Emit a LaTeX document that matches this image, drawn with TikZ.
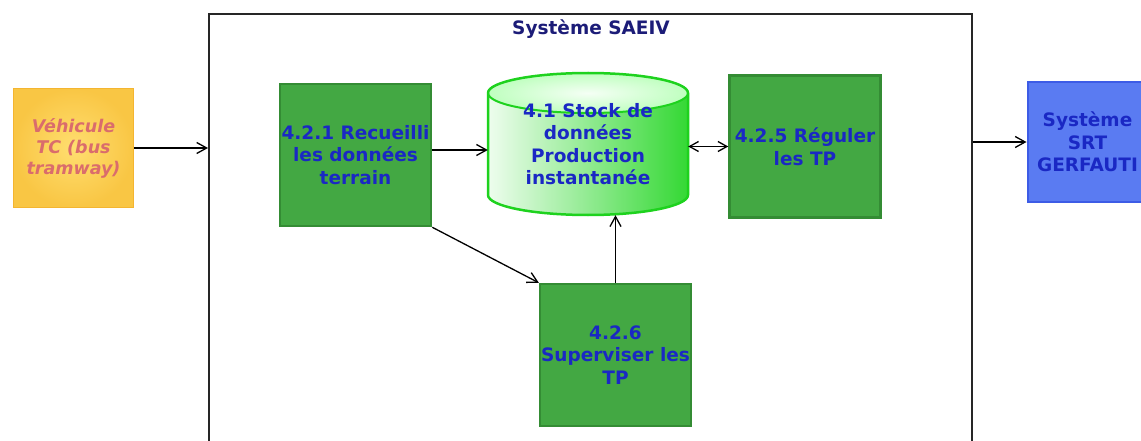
\documentclass[tikz,border=0pt]{standalone}
\usepackage{fontspec}
\setmainfont{DejaVu Sans}
\usetikzlibrary{arrows.meta}
\definecolor{tblue}{HTML}{1A28C4}
\definecolor{tnavy}{HTML}{1C1C78}
\definecolor{gmain}{HTML}{43A843}
\definecolor{gedge}{HTML}{348C34}
\definecolor{cedge}{HTML}{1ED21E}
\definecolor{cright}{HTML}{34D834}
\definecolor{cleft}{HTML}{EEFDEE}
\definecolor{vin}{HTML}{FFDE70}
\definecolor{vout}{HTML}{F9C644}
\definecolor{vedge}{HTML}{F4B530}
\definecolor{vtext}{HTML}{DA6C6C}
\definecolor{bmain}{HTML}{5A7BF2}
\definecolor{bedge}{HTML}{3D5CE6}
\tikzset{
  boxfont/.style={font=\fontsize{18.5}{22.5}\selectfont\bfseries},
  gbox/.style={boxfont, draw=gedge, line width=2.5pt, fill=gmain, text=tblue,
    align=center, inner sep=0pt, minimum width=151pt, minimum height=142pt},
  vbox/.style={font=\fontsize{17.5}{21}\selectfont\bfseries\itshape, draw=vedge, line width=1.5pt,
    inner color=vin, outer color=vout, text=vtext, align=center, inner sep=0pt,
    minimum width=120pt, minimum height=119pt},
  bbox/.style={boxfont, draw=bedge, line width=2pt, fill=bmain, text=tblue,
    align=center, inner sep=0pt, minimum width=120pt, minimum height=119pt},
  frame/.style={draw=black!85, line width=2pt, inner sep=0pt},
  arr/.style={draw=black, line width=1.3pt, -{Straight Barb[length=10pt,width=11pt]}},
  dbl/.style={draw=black, line width=1.3pt, {Straight Barb[length=9pt,width=10pt]}-{Straight Barb[length=9pt,width=10pt]}},
}
\begin{document}
\begin{tikzpicture}[x=1pt,y=-1pt]
\useasboundingbox (0,0) rectangle (1141,441);
\clip (0,0) rectangle (1141,441);
\fill[white] (0,0) rectangle (1141,441);
% system frame
\node[frame, anchor=north west, minimum width=763pt, minimum height=470pt] (sys) at (208,13) {};
\node[boxfont, text=tnavy] (ttl) at (591,29) {Système SAEIV};
% external boxes
\node[vbox] (veh) at (73.5,148) {Véhicule\\TC (bus\\tramway)};
\node[bbox] (srt) at (1087.5,142) {Système\\SRT\\GERFAUTI};
% process boxes
\node[gbox] (r421) at (355.5,155) {4.2.1 Recueilli\\les données\\terrain};
\node[gbox] (r425) at (805,146.5) {4.2.5 Réguler\\les TP};
\node[gbox] (r426) at (615.5,355) {4.2.6\\Superviser les\\TP};
% cylinder
\shade[left color=cleft, right color=cright] (488,93) -- (488,195)
  arc[start angle=180, end angle=360, x radius=100pt, y radius=20pt] -- (688,93)
  arc[start angle=0, end angle=180, x radius=100pt, y radius=20pt] -- cycle;
\shade[inner color=green!4, outer color=green!25] (588,93) ellipse [x radius=100pt, y radius=20pt];
\draw[cedge, line width=2.5pt] (488,93) -- (488,195)
  arc[start angle=180, end angle=360, x radius=100pt, y radius=20pt] -- (688,93)
  arc[start angle=0, end angle=180, x radius=100pt, y radius=20pt];
\draw[cedge, line width=2pt] (488,93) arc[start angle=180, end angle=360, x radius=100pt, y radius=20pt];
\node[boxfont, text=tblue, align=center, inner sep=0pt, minimum width=200pt, minimum height=142pt] (stock) at (588,144) {4.1 Stock de\\données\\Production\\instantanée};
% connectors
\draw[arr] (veh.east) -- (veh.east -| sys.west);
\draw[arr] ([yshift=5pt]r421.east) -- ([yshift=5pt]r421.east -| stock.west);
\draw[dbl] (r425.west -| stock.east) -- (r425.west);
\draw[arr] (r426.north) -- (r426.north |- stock.south);
\draw[arr] (r421.south east) -- (r426.north west);
\draw[arr] (sys.east |- srt.west) -- (srt.west);
\end{tikzpicture}
\end{document}
